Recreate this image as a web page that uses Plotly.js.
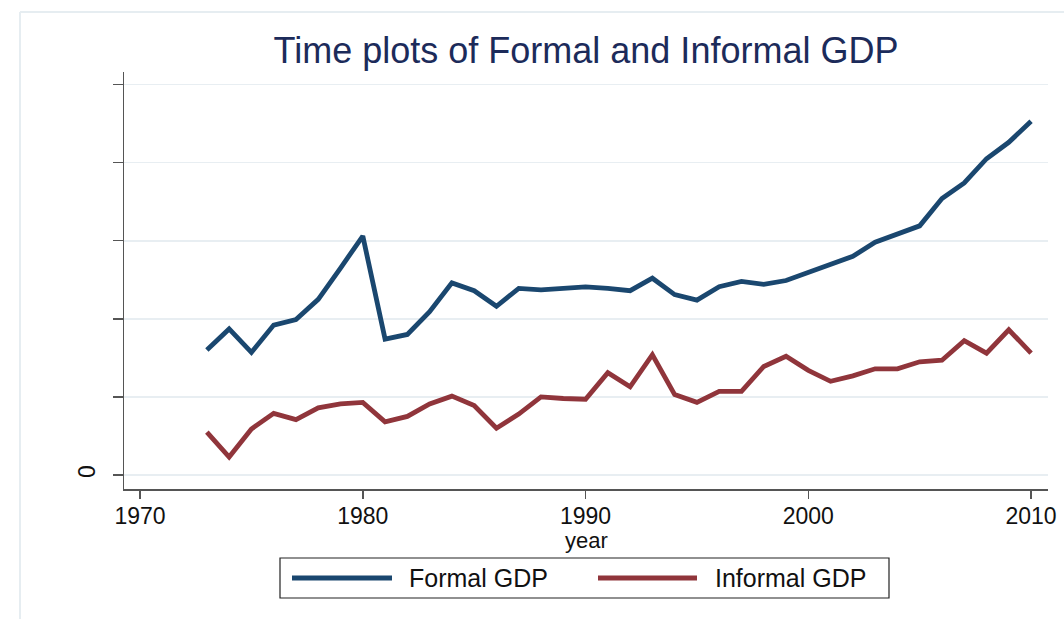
<!DOCTYPE html>
<html>
<head>
<meta charset="utf-8">
<script src="https://cdn.plot.ly/plotly-3.0.1.min.js"></script>
<style>
  html, body { margin: 0; padding: 0; background: #ffffff; }
  #chart { width: 1064px; height: 619px; }
</style>
</head>
<body>
<div id="chart"></div>
<script>
// ---- data (y in units of one grid step) ----
const years = [1973,1974,1975,1976,1977,1978,1979,1980,1981,1982,1983,1984,1985,1986,1987,1988,1989,1990,1991,1992,1993,1994,1995,1996,1997,1998,1999,2000,2001,2002,2003,2004,2005,2006,2007,2008,2009,2010];
const formalGDP = [1.60,1.87,1.57,1.92,1.99,2.25,2.65,3.06,1.74,1.80,2.09,2.46,2.36,2.16,2.39,2.37,2.39,2.41,2.39,2.36,2.52,2.31,2.24,2.41,2.48,2.44,2.49,2.59,2.70,2.80,2.98,3.09,3.19,3.54,3.74,4.05,4.26,4.53];
const informalGDP = [0.55,0.23,0.59,0.79,0.71,0.86,0.91,0.93,0.68,0.75,0.91,1.01,0.89,0.60,0.78,1.00,0.98,0.97,1.31,1.13,1.54,1.03,0.93,1.07,1.07,1.39,1.52,1.34,1.20,1.27,1.36,1.36,1.45,1.47,1.72,1.56,1.86,1.56];
const seriesNames = ["Formal GDP", "Informal GDP"];
const xTickVals = [1970, 1980, 1990, 2000, 2010];
const xTickText = ["1970", "1980", "1990", "2000", "2010"];
const yTickVals = [0, 1, 2, 3, 4, 5];
const yTickText = ["0", "", "", "", "", ""];
const titleText = "Time plots of Formal and Informal GDP";
const xTitleText = "year";

const blue = "#1a476f";
const red = "#90353b";
const font = "Liberation Sans, Arial, sans-serif";

const traces = [
  { x: years, y: formalGDP, name: seriesNames[0], type: "scatter", mode: "lines",
    line: { color: blue, width: 4.8 }, hoverinfo: "x+y+name" },
  { x: years, y: informalGDP, name: seriesNames[1], type: "scatter", mode: "lines",
    line: { color: red, width: 4.8 }, hoverinfo: "x+y+name" }
];

// plot area: x 124..1048 px, y 72..489 px
const L = 124, R = 1048, T = 72, B = 489;
const px = v => (v - L) / (R - L);
const py = v => (B - v) / (B - T);

const shapes = [
  // outer light frame (top & left edges)
  { type: "line", xref: "paper", yref: "paper", x0: px(20), x1: px(1070), y0: py(12), y1: py(12),
    line: { color: "#e6edf1", width: 2 } },
  { type: "line", xref: "paper", yref: "paper", x0: px(20), x1: px(20), y0: py(12), y1: py(630),
    line: { color: "#e6edf1", width: 2 } },
  // legend box
  { type: "rect", xref: "paper", yref: "paper", x0: px(280), x1: px(889), y0: py(558), y1: py(598),
    line: { color: "#222222", width: 1.2 }, fillcolor: "rgba(0,0,0,0)" },
  // legend keys
  { type: "line", xref: "paper", yref: "paper", x0: px(292), x1: px(392), y0: py(578), y1: py(578),
    line: { color: blue, width: 4.8 } },
  { type: "line", xref: "paper", yref: "paper", x0: px(598), x1: px(697), y0: py(578), y1: py(578),
    line: { color: red, width: 4.8 } }
];

const annotations = [
  { xref: "paper", yref: "paper", x: px(407), y: py(578), xanchor: "left", yanchor: "middle",
    text: seriesNames[0], showarrow: false, font: { family: font, size: 25, color: "#111111" } },
  { xref: "paper", yref: "paper", x: px(713), y: py(578), xanchor: "left", yanchor: "middle",
    text: seriesNames[1], showarrow: false, font: { family: font, size: 25, color: "#111111" } },
  { xref: "paper", yref: "paper", x: 0.5, y: py(540), xanchor: "center", yanchor: "middle",
    text: xTitleText, showarrow: false, font: { family: font, size: 22, color: "#111111" } }
];

const layout = {
  width: 1064, height: 619,
  margin: { l: L, r: 1064 - R, t: T, b: 619 - B, pad: 0 },
  paper_bgcolor: "#ffffff",
  plot_bgcolor: "#ffffff",
  showlegend: false,
  font: { family: font, color: "#111111" },
  title: { text: titleText, x: 0.5, xref: "paper", xanchor: "center",
           y: 1 - 50 / 619, yref: "container", yanchor: "middle",
           font: { family: font, size: 36, color: "#1c2b5a" } },
  xaxis: {
    range: [1969.28, 2010.76],
    tickvals: xTickVals, ticktext: xTickText,
    showgrid: false, zeroline: false,
    showline: true, linecolor: "#555555", linewidth: 1.5,
    ticks: "outside", ticklen: 8, tickwidth: 1.5, tickcolor: "#555555",
    tickfont: { family: font, size: 23, color: "#111111" },
    ticklabelstandoff: -2,
    fixedrange: true
  },
  yaxis: {
    range: [-0.179, 5.16],
    tickvals: yTickVals, ticktext: yTickText,
    tickangle: -90,
    showgrid: true, gridcolor: "#e8eef2", gridwidth: 1.6,
    zeroline: false,
    showline: true, linecolor: "#555555", linewidth: 1.5,
    ticks: "outside", ticklen: 10, tickwidth: 1.5, tickcolor: "#555555",
    tickfont: { family: font, size: 23, color: "#111111" },
    ticklabelstandoff: 8,
    fixedrange: true
  },
  shapes: shapes,
  annotations: annotations
};

Plotly.newPlot("chart", traces, layout, { displayModeBar: false, staticPlot: true });
</script>
</body>
</html>
